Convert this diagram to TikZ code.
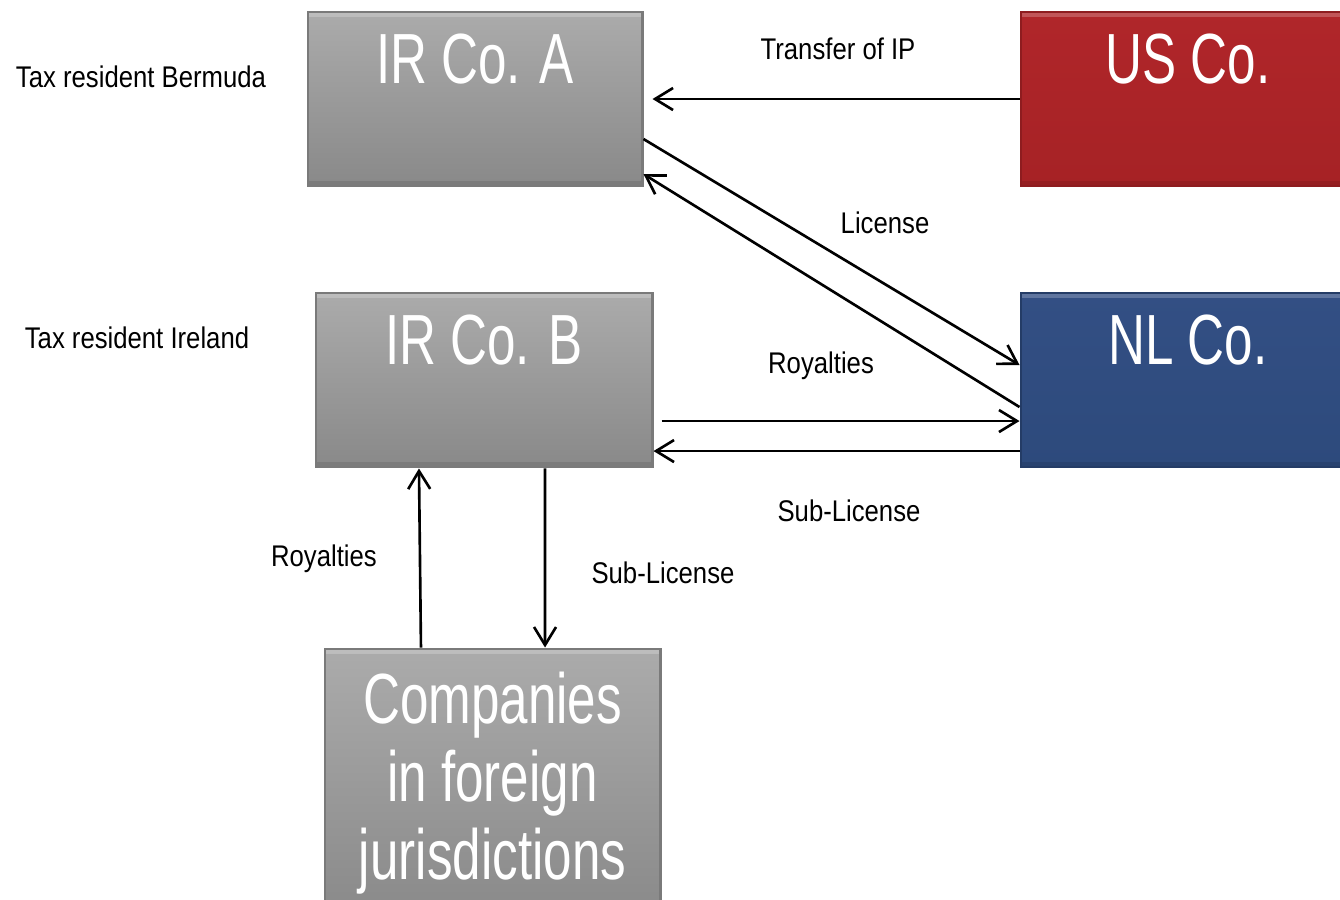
\documentclass[tikz,border=0pt]{standalone}
\usepackage{fontspec}
\setmainfont{Liberation Sans}
\newfontfamily\notefont[FakeStretch=0.86]{Liberation Sans}
\newfontfamily\cofont[FakeStretch=0.72]{Liberation Sans}
\usetikzlibrary{arrows.meta,positioning}
\definecolor{cograytop}{HTML}{ABABAB}
\definecolor{cograybot}{HTML}{898989}
\definecolor{cograyedge}{HTML}{7A7A7A}
\definecolor{coredtop}{HTML}{B0262A}
\definecolor{coredbot}{HTML}{A62225}
\definecolor{corededge}{HTML}{8E1C1F}
\definecolor{cobluetop}{HTML}{334F84}
\definecolor{cobluebot}{HTML}{2D4A7C}
\definecolor{coblueedge}{HTML}{243C66}

\begin{document}
\begin{tikzpicture}[
  x=0.01cm,
  y=-0.01cm,
  company/.style={line width=0.8pt, inner sep=0pt,
                  minimum width=3.34cm, minimum height=1.74cm,
                  path picture={
                    \draw[white, opacity=0.22, line width=3pt]
                      (path picture bounding box.north west)
                      -- (path picture bounding box.north east);
                    \draw[black, opacity=0.1, line width=3pt]
                      (path picture bounding box.south west)
                      -- (path picture bounding box.south east);}},
  grayco/.style={company, draw=cograyedge,
                 top color=cograytop, bottom color=cograybot},
  redco/.style={company, draw=corededge,
                top color=coredtop, bottom color=coredbot},
  blueco/.style={company, draw=coblueedge,
                 top color=cobluetop, bottom color=cobluebot},
  coname/.style={font=\cofont\fontsize{20.2}{22.2}\selectfont, white,
                 inner sep=0pt, align=center, anchor=north},
  note/.style={font=\notefont\fontsize{8.5}{10}\selectfont, black,
               inner sep=1pt},
  flow/.style={black, line width=0.75pt,
               -{Straight Barb[length=0.18cm, width=0.22cm]}}
]
  % ---- page, with the right and lower boxes cut at its edge -------------
  \useasboundingbox (0,0) rectangle (1340,899);

  % ---- the five companies ----------------------------------------------
  \node[grayco] (irA) at (475,99) {};
  \node[redco] (usco) at (1188,99) {};
  \node[grayco, minimum width=3.36cm] (irB) at (484,380) {};
  \node[blueco] (nlco) at (1188,380) {};
  \node[grayco, minimum width=3.35cm, minimum height=2.7cm]
    (foreign) at (492.5,784) {};

  % ---- their names, at the top of each box -----------------------------
  \node[coname, below=0.23cm of irA.north] (irAname) {IR Co. A};
  \node[coname, below=0.23cm of usco.north] (usconame) {US Co.};
  \node[coname, below=0.23cm of irB.north] (irBname) {IR Co. B};
  \node[coname, below=0.23cm of nlco.north] (nlconame) {NL Co.};
  \node[coname, below=0.24cm of foreign.north] (foreignname)
    {Companies\\in foreign\\jurisdictions};

  % ---- where A and B are resident --------------------------------------
  \node[note] (bermuda) at (141,77) {Tax resident Bermuda};
  \node[note] (ireland) at (137,338) {Tax resident Ireland};

  % ---- flows between the companies -------------------------------------
  \draw[flow] (usco.west) -- ([xshift=0.09cm]irA.east);
  \draw[flow] ([yshift=-0.4cm]irA.east) -- ([yshift=0.15cm]nlco.west);
  \draw[flow] ([yshift=-0.27cm]nlco.west) -- ([yshift=-0.75cm]irA.east);
  \draw[flow] ([xshift=0.08cm, yshift=-0.41cm]irB.east)
    -- ([yshift=-0.41cm]nlco.west);
  \draw[flow] ([yshift=-0.71cm]nlco.west) -- ([yshift=-0.71cm]irB.east);
  \draw[flow] ([xshift=-0.715cm]foreign.north) -- ([xshift=-0.65cm]irB.south);
  \draw[flow] ([xshift=0.61cm]irB.south) -- ([xshift=0.525cm]foreign.north);

  % ---- what each flow carries ------------------------------------------
  \node[note] (ipnote) at (838,49) {Transfer of IP};
  \node[note] (licnote) at (885,223) {License};
  \node[note] (roynote) at (821,366) {Royalties};
  \node[note] (subnote) at (849,511) {Sub-License};
  \node[note] (froynote) at (324,559) {Royalties};
  \node[note] (fsubnote) at (663,573) {Sub-License};

\end{tikzpicture}
\end{document}
